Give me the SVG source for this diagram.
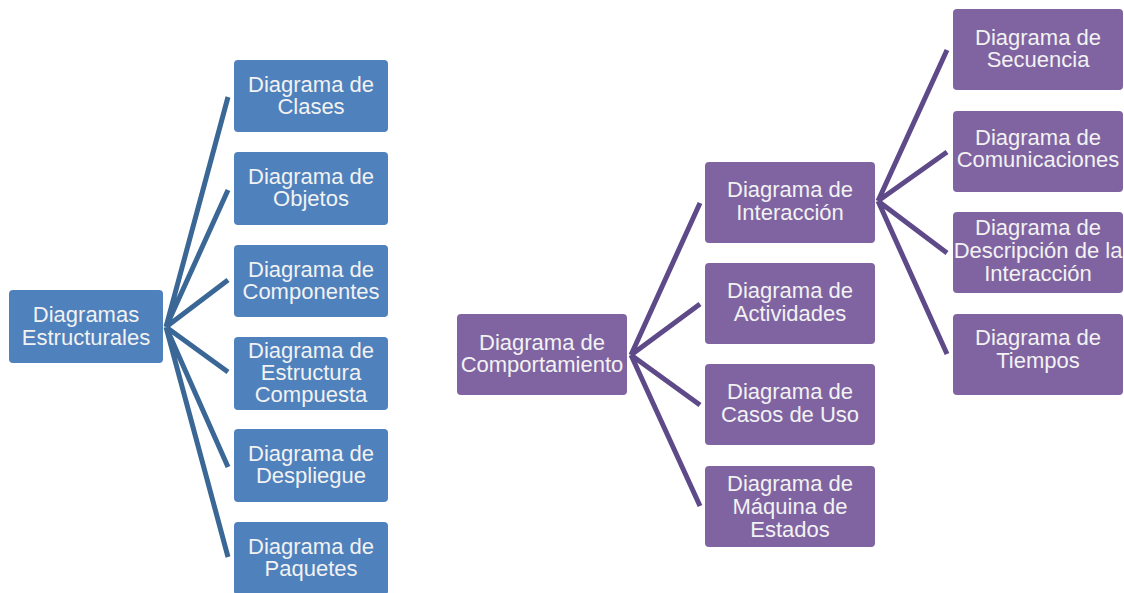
<svg xmlns="http://www.w3.org/2000/svg" width="1124" height="593" viewBox="0 0 1124 593">
<style>
.b{fill:#4f81bd}
.p{fill:#8064a2}
.t{font-family:"Liberation Sans",Arial,sans-serif;font-size:22px;fill:#f2f2f2;text-anchor:middle}
.lb{stroke:#3a6795;stroke-width:5;fill:none;stroke-linecap:butt}
.lp{stroke:#5e4a88;stroke-width:5;fill:none;stroke-linecap:butt}
</style>
<rect width="1124" height="593" fill="#ffffff"/>
<g id="connectors">
<path class="lb" d="M166 327 L228 97 M166 327 L228 190 M166 327 L228 280 M166 327 L228 372 M166 327 L228 467 M166 327 L228 557"/>
<path class="lp" d="M631 355 L700 203 M631 355 L700 304 M631 355 L700 405 M631 355 L700 506"/>
<path class="lp" d="M878 201 L947 50 M878 201 L947 152 M878 201 L947 253 M878 201 L947 354"/>
</g>
<g id="n-estructurales"><rect class="b" x="9" y="290" width="154" height="73" rx="4"/><text class="t" x="86" y="322">Diagramas</text><text class="t" x="86" y="345">Estructurales</text></g>
<g id="n-clases"><rect class="b" x="234" y="60" width="154" height="72" rx="4"/><text class="t" x="311" y="92">Diagrama de</text><text class="t" x="311" y="114">Clases</text></g>
<g id="n-objetos"><rect class="b" x="234" y="152" width="154" height="73" rx="4"/><text class="t" x="311" y="184">Diagrama de</text><text class="t" x="311" y="206">Objetos</text></g>
<g id="n-componentes"><rect class="b" x="234" y="245" width="154" height="72" rx="4"/><text class="t" x="311" y="277">Diagrama de</text><text class="t" x="311" y="299">Componentes</text></g>
<g id="n-estructura"><rect class="b" x="234" y="337" width="154" height="73" rx="4"/><text class="t" x="311" y="358">Diagrama de</text><text class="t" x="311" y="380">Estructura</text><text class="t" x="311" y="402">Compuesta</text></g>
<g id="n-despliegue"><rect class="b" x="234" y="429" width="154" height="73" rx="4"/><text class="t" x="311" y="461">Diagrama de</text><text class="t" x="311" y="483">Despliegue</text></g>
<g id="n-paquetes"><rect class="b" x="234" y="522" width="154" height="73" rx="4"/><text class="t" x="311" y="554">Diagrama de</text><text class="t" x="311" y="576">Paquetes</text></g>
<g id="n-comportamiento"><rect class="p" x="457" y="314" width="170" height="81" rx="4"/><text class="t" x="542" y="350">Diagrama de</text><text class="t" x="542" y="372">Comportamiento</text></g>
<g id="n-interaccion"><rect class="p" x="705" y="162" width="170" height="81" rx="4"/><text class="t" x="790" y="197">Diagrama de</text><text class="t" x="790" y="220">Interacción</text></g>
<g id="n-actividades"><rect class="p" x="705" y="263" width="170" height="81" rx="4"/><text class="t" x="790" y="298">Diagrama de</text><text class="t" x="790" y="321">Actividades</text></g>
<g id="n-casos"><rect class="p" x="705" y="364" width="170" height="81" rx="4"/><text class="t" x="790" y="399">Diagrama de</text><text class="t" x="790" y="422">Casos de Uso</text></g>
<g id="n-maquina"><rect class="p" x="705" y="466" width="170" height="81" rx="4"/><text class="t" x="790" y="491">Diagrama de</text><text class="t" x="790" y="514">Máquina de</text><text class="t" x="790" y="537">Estados</text></g>
<g id="n-secuencia"><rect class="p" x="953" y="9" width="170" height="81" rx="4"/><text class="t" x="1038" y="45">Diagrama de</text><text class="t" x="1038" y="67">Secuencia</text></g>
<g id="n-comunicaciones"><rect class="p" x="953" y="111" width="170" height="81" rx="4"/><text class="t" x="1038" y="145">Diagrama de</text><text class="t" x="1038" y="167">Comunicaciones</text></g>
<g id="n-descripcion"><rect class="p" x="953" y="212" width="170" height="81" rx="4"/><text class="t" x="1038" y="235">Diagrama de</text><text class="t" x="1038" y="258">Descripción de la</text><text class="t" x="1038" y="281">Interacción</text></g>
<g id="n-tiempos"><rect class="p" x="953" y="314" width="170" height="81" rx="4"/><text class="t" x="1038" y="345">Diagrama de</text><text class="t" x="1038" y="368">Tiempos</text></g>
</svg>
